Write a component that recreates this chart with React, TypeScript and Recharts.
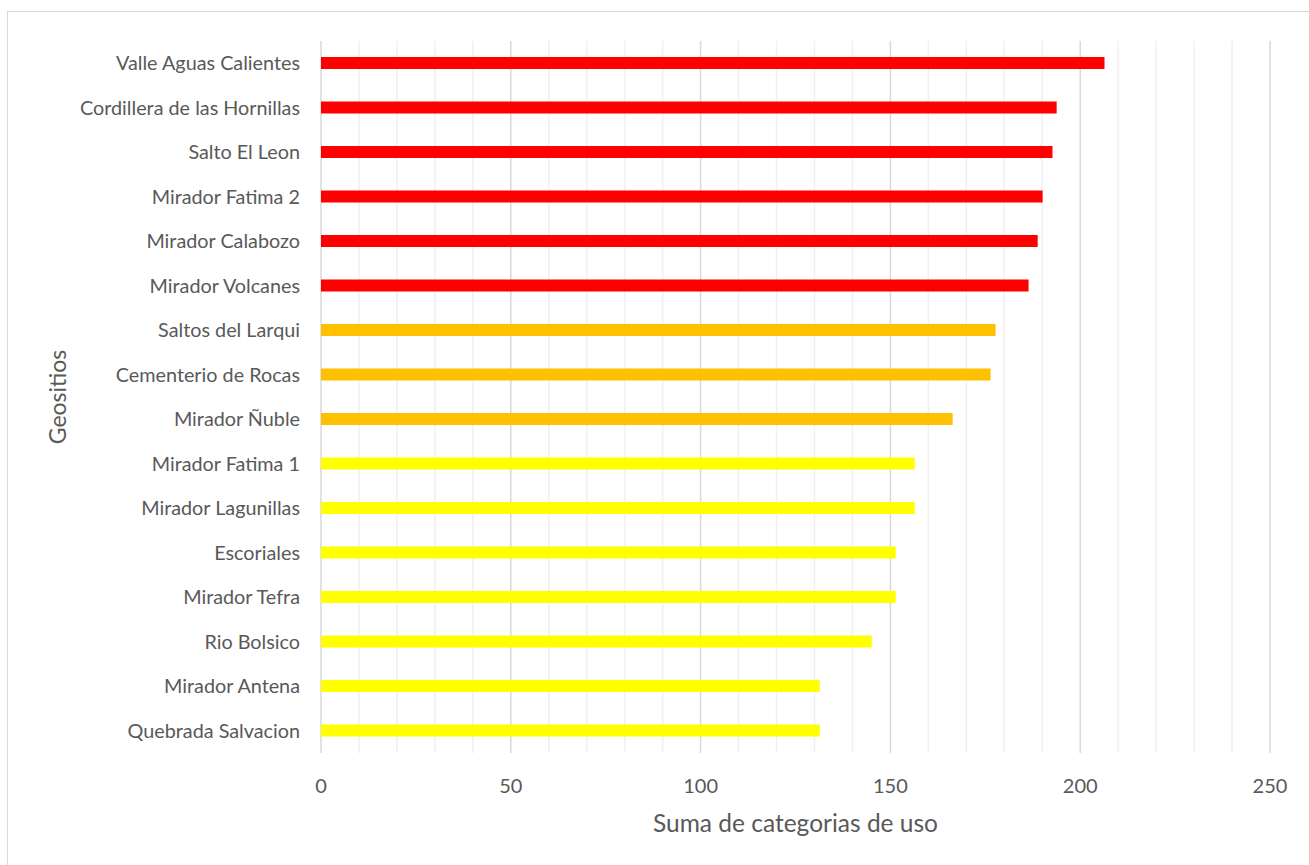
import React from "react";
import { BarChart, Bar, XAxis, YAxis, CartesianGrid, Cell, Label } from "recharts";

const geositios = [
  "Valle Aguas Calientes",
  "Cordillera de las Hornillas",
  "Salto El Leon",
  "Mirador Fatima 2",
  "Mirador Calabozo",
  "Mirador Volcanes",
  "Saltos del Larqui",
  "Cementerio de Rocas",
  "Mirador Ñuble",
  "Mirador Fatima 1",
  "Mirador Lagunillas",
  "Escoriales",
  "Mirador Tefra",
  "Rio Bolsico",
  "Mirador Antena",
  "Quebrada Salvacion",
];
const sumaUso = [206.4, 193.8, 192.7, 190.1, 188.8, 186.4, 177.7, 176.4, 166.4, 156.4, 156.4, 151.4, 151.4, 145.1, 131.4, 131.4];
const grupo = ["alto", "alto", "alto", "alto", "alto", "alto", "medio", "medio", "medio", "bajo", "bajo", "bajo", "bajo", "bajo", "bajo", "bajo"];
const grupoColor: Record<string, string> = { alto: "#FF0000", medio: "#FFC000", bajo: "#FFFF00" };
const majorTicks = [0, 50, 100, 150, 200, 250];
const minorTicks = [10, 20, 30, 40, 60, 70, 80, 90, 110, 120, 130, 140, 160, 170, 180, 190, 210, 220, 230, 240];

const data = geositios.map((name, i) => ({ name, value: sumaUso[i], grupo: grupo[i] }));

const FONT = "Lato, 'Open Sans', sans-serif";
const TXT = "#595959";

const YTitle = (props: any) => {
  const vb = props.viewBox || {};
  const cx = 57;
  const cy = vb.y + vb.height / 2;
  return (
    <text x={cx} y={cy} transform={`rotate(-90 ${cx} ${cy})`} textAnchor="middle" dominantBaseline="central" fill={TXT} fontSize={23} fontFamily={FONT}>
      Geositios
    </text>
  );
};

export default function App() {
  return (
    <div style={{ position: "absolute", left: 0, top: 0, width: 1309, height: 865, background: "#fff", overflow: "hidden" }}>
      <div style={{ position: "absolute", left: 7, top: 11, width: 1320, height: 880, border: "1px solid #d9d9d9", boxSizing: "border-box" }} />
      <div style={{ position: "absolute", left: 0, top: 0 }}>
        <BarChart width={1309} height={865} data={data} layout="vertical" margin={{ top: 41, right: 39, left: 0, bottom: 0 }} barSize={12}>
          <CartesianGrid horizontal={false} vertical verticalValues={minorTicks} stroke="#f0f0f0" strokeWidth={1.5} />
          <CartesianGrid horizontal={false} vertical verticalValues={majorTicks} stroke="#d9d9d9" strokeWidth={1.5} />
          <XAxis
            type="number"
            domain={[0, 250]}
            ticks={majorTicks}
            height={112}
            axisLine={false}
            tickLine={false}
            tickSize={0}
            tickMargin={26}
            tick={{ fill: TXT, fontSize: 20, fontFamily: FONT }}
          >
            <Label value="Suma de categorias de uso" position="insideBottom" offset={33} fill={TXT} fontSize={24.5} fontFamily={FONT} />
          </XAxis>
          <YAxis
            type="category"
            dataKey="name"
            width={321}
            axisLine={false}
            tickLine={false}
            tickSize={0}
            tickMargin={21}
            interval={0}
            tick={{ fill: TXT, fontSize: 19.8, fontFamily: FONT }}
          >
            <Label content={<YTitle />} />
          </YAxis>
          <Bar dataKey="value" isAnimationActive={false}>
            {data.map((d, i) => (
              <Cell key={i} fill={grupoColor[d.grupo]} />
            ))}
          </Bar>
        </BarChart>
      </div>
    </div>
  );
}
